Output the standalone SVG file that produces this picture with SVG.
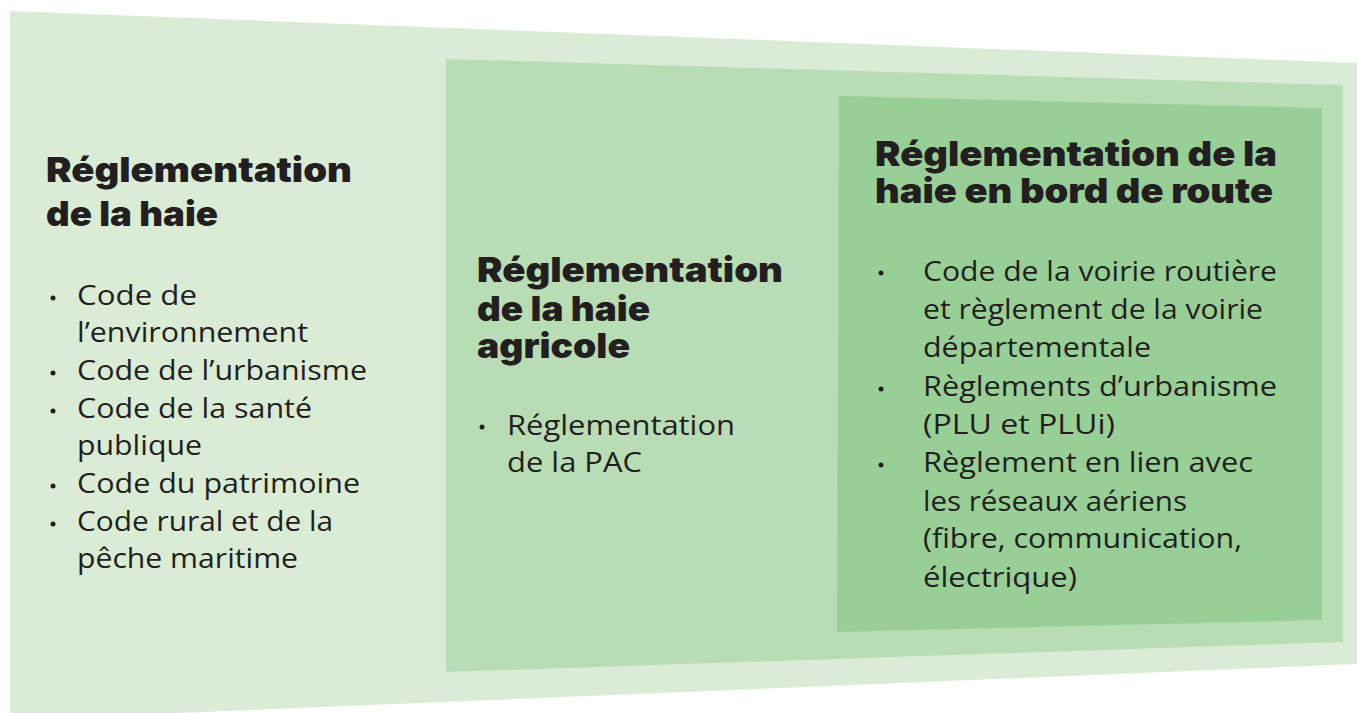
<svg xmlns="http://www.w3.org/2000/svg" width="1357" height="713" viewBox="0 0 1357 713">
<style>
.h{font-family:Inter,"Liberation Sans",sans-serif;font-weight:900;font-size:34px;fill:#231f20}
.b{font-family:"Open Sans","Liberation Sans",sans-serif;font-weight:400;font-size:28px;fill:#231f20}
.dot{fill:#231f20}
</style>
<rect width="1357" height="713" fill="#ffffff"/>
<g id="outer">
<polygon points="10,11 1357,63 1357,664 10,720" fill="#dbecd6"/>
<text class="h" x="46" y="182" textLength="306" lengthAdjust="spacingAndGlyphs">Réglementation</text>
<text class="h" x="46" y="226" textLength="172" lengthAdjust="spacingAndGlyphs">de la haie</text>
<circle class="dot" cx="53" cy="298" r="2.5"/>
<circle class="dot" cx="53" cy="373" r="2.5"/>
<circle class="dot" cx="53" cy="411" r="2.5"/>
<circle class="dot" cx="53" cy="486" r="2.5"/>
<circle class="dot" cx="53" cy="524" r="2.5"/>
<text class="b" x="77" y="305" textLength="120" lengthAdjust="spacingAndGlyphs">Code de</text>
<text class="b" x="77" y="342" textLength="231" lengthAdjust="spacingAndGlyphs">l’environnement</text>
<text class="b" x="77" y="380" textLength="290" lengthAdjust="spacingAndGlyphs">Code de l’urbanisme</text>
<text class="b" x="77" y="418" textLength="235" lengthAdjust="spacingAndGlyphs">Code de la santé</text>
<text class="b" x="77" y="455" textLength="125" lengthAdjust="spacingAndGlyphs">publique</text>
<text class="b" x="77" y="493" textLength="283" lengthAdjust="spacingAndGlyphs">Code du patrimoine</text>
<text class="b" x="77" y="531" textLength="256" lengthAdjust="spacingAndGlyphs">Code rural et de la</text>
<text class="b" x="77" y="568" textLength="221" lengthAdjust="spacingAndGlyphs">pêche maritime</text>
</g>
<g id="middle">
<polygon points="446,59 1343,85 1343,642 446,672" fill="#b8ddb5"/>
<text class="h" x="477" y="282" textLength="306" lengthAdjust="spacingAndGlyphs">Réglementation</text>
<text class="h" x="477" y="321" textLength="173" lengthAdjust="spacingAndGlyphs">de la haie</text>
<text class="h" x="477" y="358" textLength="153" lengthAdjust="spacingAndGlyphs">agricole</text>
<circle class="dot" cx="482" cy="427" r="2.5"/>
<text class="b" x="507" y="435" textLength="228" lengthAdjust="spacingAndGlyphs">Réglementation</text>
<text class="b" x="507" y="472" textLength="135" lengthAdjust="spacingAndGlyphs">de la PAC</text>
</g>
<g id="inner">
<polygon points="839,96 1322,108 1322,620 837,632" fill="#98cf96"/>
<text class="h" x="875" y="166" textLength="402" lengthAdjust="spacingAndGlyphs">Réglementation de la</text>
<text class="h" x="875" y="203" textLength="398" lengthAdjust="spacingAndGlyphs">haie en bord de route</text>
<circle class="dot" cx="881" cy="273" r="2.5"/>
<circle class="dot" cx="881" cy="389" r="2.5"/>
<circle class="dot" cx="881" cy="465" r="2.5"/>
<text class="b" x="923" y="281" textLength="354" lengthAdjust="spacingAndGlyphs">Code de la voirie routière</text>
<text class="b" x="923" y="319" textLength="340" lengthAdjust="spacingAndGlyphs">et règlement de la voirie</text>
<text class="b" x="923" y="357" textLength="228" lengthAdjust="spacingAndGlyphs">départementale</text>
<text class="b" x="923" y="396" textLength="354" lengthAdjust="spacingAndGlyphs">Règlements d’urbanisme</text>
<text class="b" x="923" y="434" textLength="192" lengthAdjust="spacingAndGlyphs">(PLU et PLUi)</text>
<text class="b" x="923" y="472" textLength="330" lengthAdjust="spacingAndGlyphs">Règlement en lien avec</text>
<text class="b" x="923" y="511" textLength="264" lengthAdjust="spacingAndGlyphs">les réseaux aériens</text>
<text class="b" x="923" y="548" textLength="319" lengthAdjust="spacingAndGlyphs">(fibre, communication,</text>
<text class="b" x="923" y="587" textLength="154" lengthAdjust="spacingAndGlyphs">électrique)</text>
</g>
</svg>
